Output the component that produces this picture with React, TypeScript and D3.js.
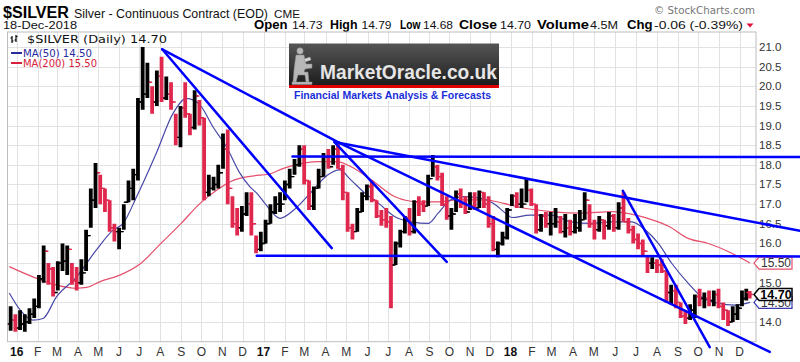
import React from "react";
import * as d3 from "d3";

// ---------- data ----------
const WEEK_START = "2015-12-21";
const LAST_DATE = "2018-12-18";
const firstOpen = 13.95;

const weekHigh = [
  14.4, 14.2, 14.3, 14.2, 14.35, 14.6, 15.2, 15.95, 15.5, 15.4, 15.55, 16.0, 15.95, 15.5, 15.4, 15.6, 16.35, 17.4, 18.05, 17.75,
  17.4, 17.1, 16.5, 16.4, 17.0, 17.6, 17.9, 19.7, 21.0, 20.6, 20.0, 20.4, 20.75, 20.25, 20.1, 19.3, 19.5, 20.1, 19.3, 19.9,
  19.65, 19.2, 17.75, 17.7, 18.0, 18.8, 18.9, 17.2, 16.9, 16.95, 17.3, 17.3, 16.2, 16.3, 16.6, 17.0, 17.2, 17.3, 17.6, 17.9,
  18.15, 18.5, 18.5, 17.6, 17.45, 17.9, 18.3, 18.4, 18.5, 18.6, 18.0, 17.3, 16.5, 16.9, 17.3, 17.5, 17.6, 17.1, 16.85, 16.9,
  16.7, 16.05, 16.35, 16.7, 16.9, 17.1, 17.2, 17.1, 17.75, 18.25, 18.0, 17.8, 17.2, 16.9, 17.35, 17.4, 17.2, 17.3, 17.3, 17.35,
  17.3, 17.2, 16.7, 16.05, 16.3, 16.9, 17.25, 17.3, 17.4, 17.65, 17.4, 17.0, 16.75, 16.8, 16.8, 16.9, 16.7, 16.75, 16.6, 16.75,
  16.85, 17.3, 17.0, 16.6, 16.7, 16.6, 16.8, 16.75, 17.05, 17.3, 16.65, 16.45, 16.25, 16.1, 15.7, 15.65, 15.6, 15.6, 15.3, 14.95,
  14.95, 14.5, 14.3, 14.45, 14.7, 14.85, 14.75, 14.8, 14.8, 14.85, 14.5, 14.3, 14.4, 14.45, 14.8, 14.85, 14.79,
];
const weekLow = [
  13.78, 13.75, 13.8, 13.75, 13.95, 14.1, 14.35, 15.0, 14.95, 14.65, 14.8, 15.3, 15.2, 14.95, 14.8, 14.95, 15.3, 16.4, 16.9, 17.0,
  16.8, 16.3, 16.05, 15.85, 16.35, 17.05, 17.1, 17.6, 19.4, 19.7, 19.3, 19.5, 19.6, 19.65, 19.4, 18.5, 18.45, 19.2, 18.75, 18.9,
  19.0, 17.1, 17.2, 17.35, 17.4, 17.9, 17.0, 16.4, 16.2, 16.3, 16.7, 16.2, 15.75, 15.8, 16.0, 16.5, 16.75, 16.8, 17.1, 17.4,
  17.75, 17.95, 17.5, 16.85, 16.85, 17.4, 17.7, 17.9, 18.0, 17.9, 17.1, 16.3, 16.1, 16.3, 16.8, 17.1, 17.05, 16.65, 16.45, 16.4,
  14.35, 15.45, 15.9, 16.25, 16.2, 16.25, 16.7, 16.8, 16.95, 17.7, 17.6, 16.95, 16.6, 16.35, 16.8, 16.9, 16.75, 16.85, 16.85, 16.9,
  16.9, 16.4, 15.8, 15.65, 15.95, 16.1, 16.95, 16.9, 16.9, 17.05, 16.95, 16.25, 16.3, 16.4, 16.2, 16.4, 16.25, 16.15, 16.2, 16.25,
  16.3, 16.6, 16.4, 16.1, 16.3, 16.1, 16.35, 16.3, 16.35, 16.55, 16.25, 16.0, 15.85, 15.7, 15.25, 15.35, 15.25, 15.25, 14.5, 14.45,
  14.35, 14.1, 13.95, 14.05, 14.1, 14.4, 14.35, 14.4, 14.4, 14.35, 14.05, 13.9, 14.0, 14.05, 14.4, 14.55, 14.6,
];
const weekClose = [
  14.05, 13.85, 13.95, 14.0, 14.2, 14.4, 15.1, 15.8, 15.35, 14.75, 15.5, 15.55, 15.85, 15.05, 15.0, 15.25, 16.2, 17.1, 17.8, 17.4,
  17.1, 16.4, 16.3, 16.3, 17.05, 17.4, 17.75, 19.6, 19.8, 20.1, 19.6, 20.25, 19.7, 19.8, 19.6, 18.7, 19.45, 19.3, 18.95, 19.75,
  19.2, 17.3, 17.4, 17.5, 17.8, 18.4, 17.4, 16.5, 16.4, 16.75, 17.0, 16.5, 15.85, 16.0, 16.5, 16.8, 17.0, 17.0, 17.5, 17.7,
  18.0, 18.4, 17.6, 16.95, 17.4, 17.7, 18.2, 17.95, 18.4, 17.9, 17.3, 16.4, 16.3, 16.8, 17.2, 17.45, 17.1, 16.7, 16.6, 16.55,
  15.45, 16.0, 16.3, 16.65, 16.3, 17.05, 17.0, 16.95, 17.65, 17.95, 17.7, 17.0, 16.7, 16.75, 17.25, 17.0, 16.8, 16.95, 16.9, 17.3,
  17.0, 16.5, 15.85, 16.0, 16.15, 16.85, 17.2, 17.0, 17.0, 17.35, 17.0, 16.35, 16.7, 16.5, 16.5, 16.55, 16.3, 16.4, 16.3, 16.4,
  16.6, 17.1, 16.5, 16.35, 16.6, 16.45, 16.7, 16.4, 16.9, 16.55, 16.35, 16.1, 16.0, 15.8, 15.5, 15.5, 15.45, 15.3, 14.75, 14.8,
  14.5, 14.15, 14.1, 14.3, 14.65, 14.6, 14.6, 14.55, 14.7, 14.4, 14.3, 14.0, 14.2, 14.35, 14.6, 14.75, 14.7,
];

const ma50Dates = [
  "2015-12-21", "2016-01-06", "2016-01-25", "2016-02-09", "2016-02-29", "2016-03-30", "2016-04-28", "2016-05-23", "2016-06-07",
  "2016-06-27", "2016-07-26", "2016-08-20", "2016-09-09", "2016-09-29", "2016-10-18", "2016-11-07", "2016-11-27", "2016-12-12",
  "2016-12-22", "2017-01-03", "2017-01-25", "2017-02-14", "2017-03-10", "2017-04-04", "2017-04-21", "2017-05-08", "2017-05-28",
  "2017-06-17", "2017-07-11", "2017-08-05", "2017-08-30", "2017-09-14", "2017-10-03", "2017-10-23", "2017-11-17", "2017-12-06",
  "2017-12-26", "2018-01-03", "2018-01-29", "2018-02-28", "2018-03-29", "2018-04-27", "2018-05-27", "2018-06-25", "2018-07-15",
  "2018-08-03", "2018-08-23", "2018-09-16", "2018-10-06", "2018-10-30", "2018-11-24", "2018-12-18",
];
const ma50Values = [
  14.74, 14.31, 14.05, 14.09, 14.64, 15.15, 15.83, 16.34, 16.51, 17.19, 18.29, 19.31, 19.69, 19.52, 18.97, 18.46, 17.79, 17.44,
  17.28, 17.02, 16.64, 16.85, 17.28, 17.74, 17.87, 17.61, 17.28, 17.02, 16.68, 16.55, 16.51, 16.77, 17.11, 17.19, 17.15, 17.02,
  16.75, 16.66, 16.72, 16.72, 16.55, 16.51, 16.55, 16.55, 16.34, 16.0, 15.49, 14.99, 14.64, 14.48, 14.43, 14.5,
];

const ma200Dates = [
  "2015-12-21", "2016-01-25", "2016-02-29", "2016-03-30", "2016-04-14", "2016-05-04", "2016-06-03", "2016-07-03", "2016-08-02",
  "2016-09-01", "2016-09-29", "2016-10-24", "2016-11-18", "2016-12-17", "2017-01-08", "2017-01-30", "2017-03-20", "2017-04-18",
  "2017-05-08", "2017-06-07", "2017-07-11", "2017-08-15", "2017-09-14", "2017-10-13", "2017-11-22", "2017-12-22", "2018-01-14",
  "2018-02-28", "2018-04-13", "2018-05-27", "2018-07-01", "2018-07-25", "2018-08-19", "2018-09-16", "2018-10-16", "2018-11-15",
  "2018-12-18",
];
const ma200Values = [
  15.41, 15.15, 14.94, 14.86, 14.88, 15.03, 15.2, 15.49, 16.0, 16.51, 17.02, 17.36, 17.61, 17.72, 17.76, 17.91, 18.08, 18.08,
  17.95, 17.61, 17.19, 17.06, 17.06, 17.11, 17.11, 17.02, 16.92, 16.81, 16.77, 16.81, 16.72, 16.6, 16.43, 16.13, 16.0, 15.79,
  15.5,
];

// hand-drawn trend lines: [startDate, startValue, endDate, endValue]
const trendLines: [string, number, string, number][] = [
  ["2016-08-04", 20.94, "2017-04-21", 18.56],
  ["2017-04-21", 18.56, "2019-01-19", 13.24],
  ["2017-04-14", 18.58, "2019-03-09", 16.32],
  ["2017-02-12", 18.21, "2019-03-09", 18.2],
  ["2016-12-22", 15.69, "2019-03-09", 15.67],
  ["2016-08-04", 20.94, "2017-04-10", 15.88],
  ["2017-04-14", 18.58, "2017-09-27", 15.53],
  ["2018-06-12", 17.34, "2018-10-18", 13.36],
];

const yGridValues = [14.0, 14.5, 15.0, 15.5, 16.0, 16.5, 17.0, 17.5, 18.0, 18.5, 19.0, 19.5, 20.0, 20.5, 21.0];
// 14.5 and 15.5 are covered by the value tags in the reference
const yLabelValues = [14.0, 15.0, 16.0, 16.5, 17.0, 17.5, 18.0, 18.5, 19.0, 19.5, 20.0, 20.5, 21.0];
const monthLetters = ["J", "F", "M", "A", "M", "J", "J", "A", "S", "O", "N", "D"];

const headerFields: [string, string][] = [
  ["Open", "14.73"],
  ["High", "14.79"],
  ["Low", "14.68"],
  ["Close", "14.70"],
  ["Volume", "4.5M"],
  ["Chg", "-0.06 (-0.39%)"],
];

const lastClose = 14.7;
const lastMA50 = 14.5;
const lastMA200 = 15.5;

// ---------- layout ----------
const W = 800;
const H = 362;
const plotL = 7.5;
const plotR = 756;
const plotT = 32;
const plotB = 341.7;

const BLUE = "#0000ff";
const RED = "#e0284f";
const MA50C = "#4848a8";
const MA200C = "#e4506c";
const FONT = "'Liberation Sans', Arial, sans-serif";

const pd = (s: string) => new Date(s + "T00:00:00Z");

export default function App() {
  const x = d3
    .scaleUtc()
    .domain([
      pd("2016-01-01"),
      pd("2016-07-01"),
      pd("2017-01-01"),
      pd("2017-07-01"),
      pd("2018-01-01"),
      pd("2018-07-01"),
      pd("2018-12-01"),
      pd(LAST_DATE),
    ])
    .range([16.7, 139.3, 263.5, 388.3, 510.5, 636, 739.5, 750]);
  const y = d3.scaleLinear().domain([13.5, 21.38]).range([plotB, plotT]);

  const start = pd(WEEK_START);
  const last = pd(LAST_DATE);
  const weeks = weekClose.map((c, i) => {
    const mon = d3.utcDay.offset(start, i * 7);
    let mid = d3.utcDay.offset(mon, 2);
    if (mid > last) mid = d3.utcHour.offset(last, -12);
    const open = i === 0 ? firstOpen : weekClose[i - 1];
    return { x: x(mid), o: open, h: weekHigh[i], l: weekLow[i], c };
  });

  const months = d3.utcMonth.range(pd("2016-01-01"), pd("2019-01-01"));

  const lineGen = d3
    .line<[Date, number]>()
    .x((d) => x(d[0]))
    .y((d) => y(d[1]))
    .curve(d3.curveMonotoneX);
  const ma50Path = lineGen(ma50Dates.map((d, i) => [pd(d), ma50Values[i]] as [Date, number])) || "";
  const ma200Path = lineGen(ma200Dates.map((d, i) => [pd(d), ma200Values[i]] as [Date, number])) || "";

  const tag = (v: number, stroke: string, bold: boolean, sw: number) => {
    const yc = y(v);
    const x0 = 754;
    const d = `M${x0},${yc} L${x0 + 5},${yc - 6} L${x0 + 38},${yc - 6} L${x0 + 38},${yc + 6} L${x0 + 5},${yc + 6} Z`;
    return (
      <g key={"tag" + v}>
        <path d={d} fill="#fff" stroke={stroke} strokeWidth={sw} />
        <text
          x={x0 + 22}
          y={yc + 4.2}
          textAnchor="middle"
          fontFamily={FONT}
          fontSize={bold ? 12.5 : 12}
          fontWeight={bold ? "bold" : "normal"}
          fill={bold ? "#000" : "#333"}
        >
          {v.toFixed(2)}
        </text>
      </g>
    );
  };

  const fieldPos: [number, number][] = [
    [254, 292],
    [330, 361.5],
    [400, 423],
    [459, 500],
    [537, 590],
    [627, 654],
  ];
  const valueWidths = [30.5, 30, 30, 31, 28, 89];
  const labelWidths = [33.5, 27.5, 20.5, 38, 52, 25.5];

  return (
    <svg
      width={W}
      height={H}
      viewBox={`0 0 ${W} ${H}`}
      style={{ position: "absolute", left: 0, top: 0, background: "#fff" }}
    >
      <defs>
        <clipPath id="plotClip">
          <rect x={plotL} y={plotT} width={plotR - plotL} height={plotB - plotT} />
        </clipPath>
        <linearGradient id="logoGrad" x1="0" y1="0" x2="0" y2="1">
          <stop offset="0" stopColor="#555" />
          <stop offset="0.5" stopColor="#3a3a3a" />
          <stop offset="1" stopColor="#1c1c1c" />
        </linearGradient>
      </defs>
      <rect x={0} y={0} width={W} height={H} fill="#fff" />

      {/* header */}
      <text x={3} y={18} fontFamily={FONT} fontSize={16} fontWeight="bold" fill="#000" textLength={66} lengthAdjust="spacingAndGlyphs">
        $SILVER
      </text>
      <text x={74} y={18} fontFamily={FONT} fontSize={13} fill="#111" textLength={194} lengthAdjust="spacingAndGlyphs">
        Silver - Continuous Contract (EOD)
      </text>
      <text x={274} y={18} fontFamily={FONT} fontSize={11} fill="#111" textLength={26} lengthAdjust="spacingAndGlyphs">
        CME
      </text>
      <text x={3} y={29} fontFamily={FONT} fontSize={11.5} fill="#111" textLength={74} lengthAdjust="spacingAndGlyphs">
        18-Dec-2018
      </text>
      <text x={755} y={14} textAnchor="end" fontFamily="'DejaVu Sans', sans-serif" fontSize={10} fill="#777" textLength={101} lengthAdjust="spacingAndGlyphs">
        © StockCharts.com
      </text>
      {headerFields.map(([lab, val], i) => (
        <g key={lab}>
          <text x={fieldPos[i][0]} y={28.5} fontFamily={FONT} fontSize={12.5} fontWeight="bold" fill="#000" textLength={labelWidths[i]} lengthAdjust="spacingAndGlyphs">
            {lab}
          </text>
          <text x={fieldPos[i][1]} y={28.5} fontFamily={FONT} fontSize={11.5} fill="#111" textLength={valueWidths[i]} lengthAdjust="spacingAndGlyphs">
            {val}
          </text>
        </g>
      ))}
      <path d="M746.5,23.5 L753.5,23.5 L750,27.5 Z" fill="#e0103a" />

      {/* grid */}
      <g stroke="#e2e2e2" strokeWidth={1}>
        {yGridValues.map((v) => (
          <line key={"h" + v} x1={plotL} x2={plotR} y1={Math.round(y(v)) + 0.5} y2={Math.round(y(v)) + 0.5} />
        ))}
        {months.map((m) => (
          <line key={"v" + m.getTime()} x1={Math.round(x(m)) + 0.5} x2={Math.round(x(m)) + 0.5} y1={plotT} y2={plotB} />
        ))}
      </g>

      {/* logo */}
      <g>
        <rect x={288} y={86} width={212} height={15} fill="#fff" />
        <rect x={289} y={43.5} width={210} height={42} fill="url(#logoGrad)" />
        <rect x={289} y={85} width={210} height={3} fill="#e00000" />
        <g fill="#b8b8b8" stroke="#8a8a8a" strokeWidth={0.5}>
          <circle cx={300} cy={51} r={3.2} />
          <path d="M296,55 L304,55 L306,64 L312,64 L312,68 L305,69 L304,72 L308,72 L309,82 L306,82 L305,75 L298,75 L296,82 L293,82 L294,70 L295,62 Z" />
          <path d="M304,59 L310,57 L311,60 L305,62 Z" fill="#d8d8d8" />
          <rect x={292} y={82} width={20} height={2.5} />
        </g>
        <text x={320} y={79} fontFamily={FONT} fontSize={19.5} fontWeight="bold" fill="#e6e6e6" textLength={177} lengthAdjust="spacingAndGlyphs">
          MarketOracle.co.uk
        </text>
        <text x={294} y={98.5} fontFamily={FONT} fontSize={10.5} fontWeight="bold" fill="#1a2fd8" textLength={197} lengthAdjust="spacingAndGlyphs">
          Financial Markets Analysis &amp; Forecasts
        </text>
      </g>

      {/* plot border */}
      <rect x={plotL} y={plotT} width={plotR - plotL} height={plotB - plotT} fill="none" stroke="#bdbdbd" strokeWidth={1} />

      {/* moving averages + bars */}
      <g clipPath="url(#plotClip)">
        <path d={ma200Path} fill="none" stroke={MA200C} strokeWidth={1.2} />
        <path d={ma50Path} fill="none" stroke={MA50C} strokeWidth={1.2} />
        {weeks.map((w, i) => {
          const col = w.c >= w.o ? "#000" : RED;
          return (
            <g key={"b" + i} stroke={col}>
              <line x1={w.x} x2={w.x} y1={y(w.h)} y2={y(w.l)} strokeWidth={3.8} />
              <line x1={w.x - 3.2} x2={w.x} y1={y(w.o)} y2={y(w.o)} strokeWidth={1.4} />
              <line x1={w.x} x2={w.x + 3.2} y1={y(w.c)} y2={y(w.c)} strokeWidth={1.4} />
            </g>
          );
        })}
      </g>

      {/* legend */}
      <g>
        <g stroke="#000" strokeWidth={1.2}>
          <line x1={12} x2={12} y1={36} y2={43} />
          <line x1={10.5} x2={12} y1={38} y2={38} />
          <line x1={12} x2={13.5} y1={41} y2={41} />
          <line x1={16} x2={16} y1={35} y2={42} />
          <line x1={14.5} x2={16} y1={40} y2={40} />
          <line x1={16} x2={17.5} y1={36.5} y2={36.5} />
        </g>
        <text x={27} y={43} fontFamily="'DejaVu Sans', sans-serif" fontSize={11} fill="#111" textLength={140} lengthAdjust="spacingAndGlyphs">
          $SILVER (Daily) 14.70
        </text>
        <line x1={11} x2={22} y1={53} y2={53} stroke="#2a2aa0" strokeWidth={2} />
        <text x={23} y={56.8} fontFamily="'DejaVu Sans', sans-serif" fontSize={10.5} fill="#2a2aa0" textLength={69} lengthAdjust="spacingAndGlyphs">
          MA(50) 14.50
        </text>
        <line x1={11} x2={22} y1={63} y2={63} stroke="#d8203c" strokeWidth={2} />
        <text x={23} y={67} fontFamily="'DejaVu Sans', sans-serif" fontSize={10.5} fill="#d8203c" textLength={74} lengthAdjust="spacingAndGlyphs">
          MA(200) 15.50
        </text>
      </g>

      {/* right axis */}
      <g fontFamily={FONT} fontSize={11.5} fill="#333">
        {yLabelValues.map((v) => (
          <text key={"yl" + v} x={759} y={y(v) + 4}>
            {v.toFixed(1)}
          </text>
        ))}
      </g>
      {tag(lastMA200, MA200C, false, 1.2)}
      {tag(lastMA50, "#3a3ab0", false, 1.2)}
      {tag(lastClose, "#000", true, 1.5)}

      {/* bottom axis */}
      <g fontFamily={FONT} fontSize={12} fill="#333" textAnchor="middle">
        {months.map((m) => {
          const isJan = m.getUTCMonth() === 0;
          const label = isJan ? String(m.getUTCFullYear()).slice(2) : monthLetters[m.getUTCMonth()];
          return (
            <text key={"xl" + m.getTime()} x={x(m)} y={355.5} fontWeight={isJan ? "bold" : "normal"} fill={isJan ? "#111" : "#333"}>
              {label}
            </text>
          );
        })}
      </g>

      {/* trend lines */}
      <g stroke={BLUE} strokeWidth={2.5} strokeLinecap="round">
        {trendLines.map((t, i) => (
          <line key={"t" + i} x1={x(pd(t[0]))} y1={y(t[1])} x2={x(pd(t[2]))} y2={y(t[3])} />
        ))}
      </g>
    </svg>
  );
}
